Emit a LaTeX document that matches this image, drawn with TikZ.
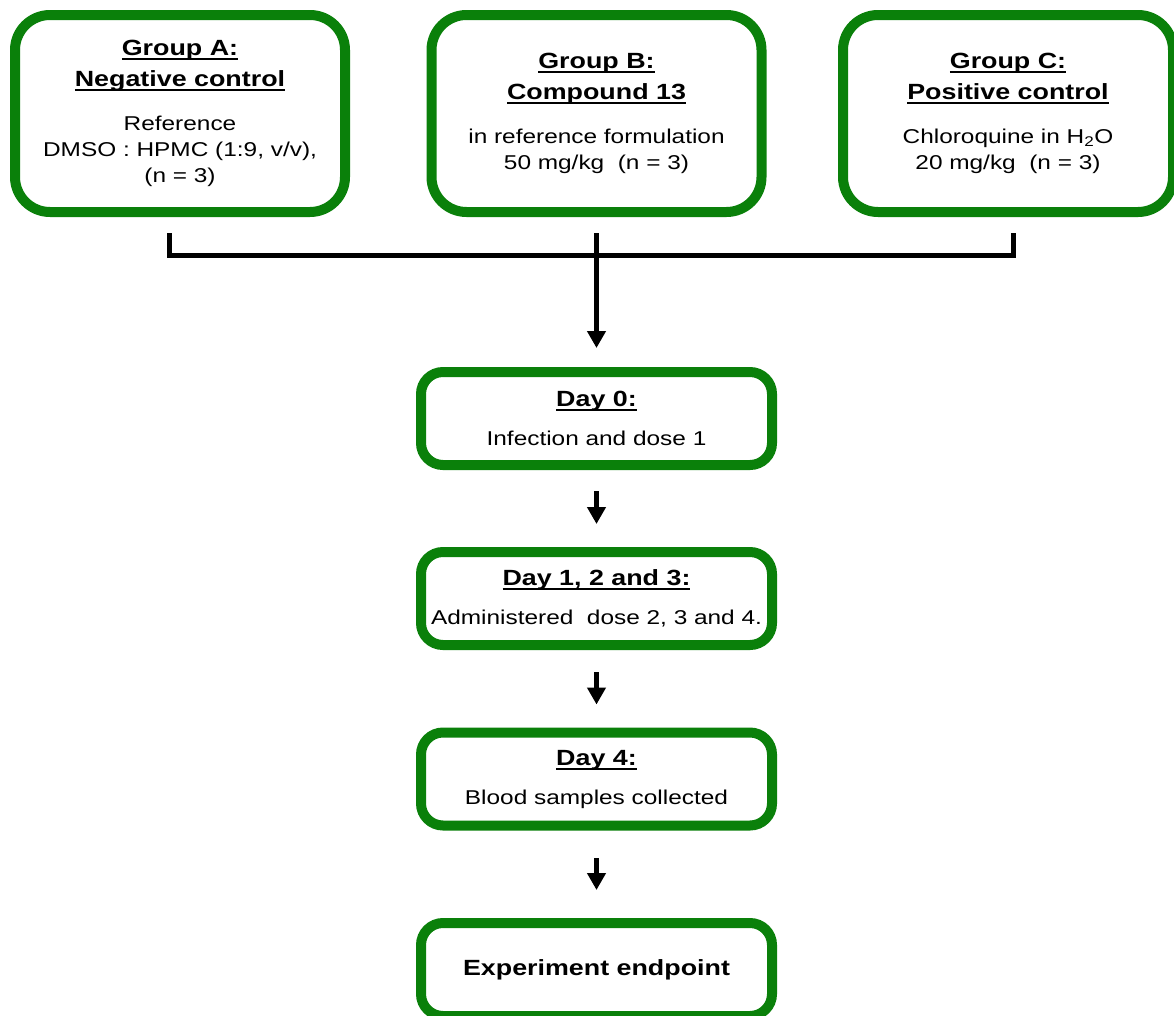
\documentclass[tikz,border=0pt]{standalone}
\usepackage{fontspec}
\setmainfont{Liberation Sans}[FakeStretch=1.22]
\usetikzlibrary{arrows.meta}
\definecolor{boxgreen}{RGB}{10,128,10}
\newcommand{\undertitle}[1]{\setbox0=\hbox{#1}\rlap{\rule[-4.6pt]{\wd0}{2pt}}\box0}
\newcommand{\stagetitle}[1]{{\fontsize{22}{26}\selectfont\bfseries\undertitle{#1}}}
\begin{document}
\begin{tikzpicture}[x=1pt, y=-1pt,
		group/.style={draw=boxgreen, fill=white, line width=10pt, rounded corners=35pt, minimum width=330pt, minimum height=197pt, align=center, inner sep=2pt, font=\fontsize{20}{26}\selectfont},
		day/.style={group, rounded corners=22pt, minimum width=351pt, minimum height=93pt},
		link/.style={line width=5pt},
		flow/.style={link, -{Triangle[length=17pt, width=18pt]}}]
		\useasboundingbox (0, 0) rectangle (1174, 1015);
		\node (groupA) at (180, 113.5) [group] {\stagetitle{Group A:}\\[5pt]\stagetitle{Negative control}\\[18pt]Reference\\DMSO : HPMC (1:9, v/v),\\(n = 3)};
		\node (groupB) at (596.5, 113.5) [group] {\stagetitle{Group B:}\\[5pt]\stagetitle{Compound 13}\\[18pt]in reference formulation\\50 mg/kg\ \ (n = 3)};
		\node (groupC) at (1008, 113.5) [group] {\stagetitle{Group C:}\\[5pt]\stagetitle{Positive control}\\[18pt]Chloroquine in H\textsubscript{2}O\\20 mg/kg\ \ (n = 3)};
		\node (day0) at (596.5, 418.5) [day] {\stagetitle{Day 0:}\\[13pt]Infection and dose 1};
		\node (day1) at (596.5, 598.5) [day] {\stagetitle{Day 1, 2 and 3:}\\[13pt]Administered\ \ dose 2, 3 and 4.};
		\node (day4) at (596.5, 779) [day] {\stagetitle{Day 4:}\\[13pt]Blood samples collected};
		\node (endpoint) at (596.5, 969.5) [day] {\fontsize{22}{26}\selectfont\bfseries Experiment endpoint};
		\coordinate (tickA) at (169, 233);
		\coordinate (tickB) at (596.5, 233);
		\coordinate (tickC) at (1013, 233);
		\coordinate (join) at (596.5, 255);
		\draw[link] (tickA) |- (join) -| (tickC);
		\draw[flow, shorten >=19pt] (tickB) -- (day0);
		\draw[flow, shorten <=21pt, shorten >=23pt] (day0) -- (day1);
		\draw[flow, shorten <=22pt, shorten >=23pt] (day1) -- (day4);
		\draw[flow, shorten <=27.5pt, shorten >=28pt] (day4) -- (endpoint);
	\end{tikzpicture}
\end{document}
